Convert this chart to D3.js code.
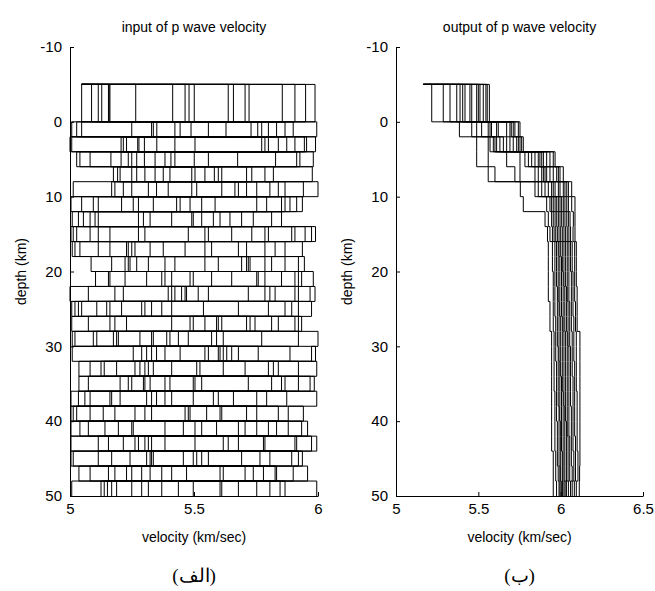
<!DOCTYPE html>
<html>
<head>
<meta charset="utf-8">
<script src="https://cdn.jsdelivr.net/npm/d3@7"></script>
<style>
  html, body { margin: 0; padding: 0; background: #fff; }
  svg { display: block; }
  text { font-family: "Liberation Sans", Arial, sans-serif; fill: #000; }
</style>
</head>
<body>
<svg id="chart" width="655" height="591"></svg>
<script>
// ---------------- DATA ----------------
// layer boundaries (km): top layer -5..0, then 2 km layers down to 50 km
const layerDepths = [-5, 0, 2, 4, 6, 8, 10, 12, 14, 16, 18, 20, 22, 24, 26, 28, 30, 32, 34, 36, 38, 40, 42, 44, 46, 48, 50];

const yTicks = [-10, 0, 10, 20, 30, 40, 50];
const xTicksInput = [5, 5.5, 6];
const xTicksOutput = [5, 5.5, 6, 6.5];
const xTickLabelsInput = ["5", "5.5", "6"];
const xTickLabelsOutput = ["5", "5.5", "6", "6.5"];

const titles = ["input of p wave velocity", "output of p wave velocity"];
const xLabel = "velocity (km/sec)";
const yLabel = "depth (km)";
const captions = ["(الف)", "(ب)"];

// starting velocity of each stair line on the top boundary
const inputStartVelocity = 5.047;
const outputStartVelocity = 5.166;

// input models: one row per layer, one column per model (20 models)
const inputVelocities = [
  [5.464, 5.114, 5.722, 5.161, 5.95, 5.047, 5.638, 5.155, 5.907, 5.414, 5.087, 5.706, 5.48, 5.988, 5.128, 5.501, 5.265, 5.856, 5.158, 5.659],
  [5.329, 5.757, 5.007, 5.867, 5.444, 5.629, 5.995, 5.047, 5.8, 5.35, 5.558, 5.027, 5.9, 5.336, 5.73, 5.833, 5.249, 5.488, 5.773, 5.423],
  [5.84, 5.3, 5.99, 5.007, 5.504, 5.273, 5.907, 5.773, 5.215, 5.8, 5.0, 5.954, 5.35, 5.206, 5.874, 5.278, 5.786, 5.945, 5.423, 5.228],
  [5.04, 5.829, 5.407, 5.235, 5.981, 5.3, 5.165, 5.501, 5.249, 5.914, 5.423, 5.027, 5.343, 5.676, 5.081, 5.927, 5.269, 5.206, 5.558, 5.383],
  [5.491, 5.202, 5.712, 5.343, 5.82, 5.175, 5.582, 5.269, 5.786, 5.403, 5.192, 5.612, 5.504, 5.977, 5.249, 5.544, 5.376, 5.733, 5.302, 5.598],
  [5.249, 5.712, 5.013, 5.867, 5.491, 5.665, 6.0, 5.181, 5.806, 5.349, 5.612, 5.168, 5.941, 5.316, 5.679, 5.84, 5.215, 5.511, 5.753, 5.396],
  [5.793, 5.336, 5.937, 5.047, 5.484, 5.255, 5.867, 5.531, 5.114, 5.753, 5.004, 5.914, 5.43, 5.094, 5.853, 5.276, 5.585, 5.887, 5.444, 5.208],
  [5.034, 5.692, 5.497, 5.114, 5.853, 5.323, 5.081, 5.578, 5.276, 5.739, 5.531, 5.009, 5.41, 5.645, 5.054, 5.813, 5.296, 5.101, 5.605, 5.491],
  [5.544, 5.027, 5.894, 5.276, 5.974, 5.004, 5.733, 5.114, 5.948, 5.477, 5.013, 5.8, 5.558, 5.99, 5.081, 5.652, 5.302, 5.907, 5.161, 5.786],
  [5.161, 5.571, 5.009, 5.827, 5.262, 5.464, 5.937, 5.04, 5.712, 5.235, 5.376, 5.02, 5.867, 5.228, 5.544, 5.786, 5.114, 5.323, 5.679, 5.249],
  [5.726, 5.383, 5.945, 5.168, 5.598, 5.269, 5.813, 5.692, 5.235, 5.719, 5.085, 5.921, 5.423, 5.222, 5.786, 5.316, 5.712, 5.867, 5.544, 5.242],
  [5.155, 5.907, 5.652, 5.37, 5.981, 5.484, 5.222, 5.759, 5.383, 5.921, 5.753, 5.103, 5.497, 5.853, 5.161, 5.934, 5.41, 5.309, 5.786, 5.571],
  [5.47, 5.181, 5.827, 5.423, 5.968, 5.0, 5.719, 5.396, 5.921, 5.464, 5.074, 5.806, 5.517, 5.988, 5.215, 5.558, 5.45, 5.907, 5.41, 5.786],
  [5.108, 5.538, 5.007, 5.894, 5.289, 5.37, 5.974, 5.034, 5.8, 5.161, 5.329, 5.02, 5.921, 5.148, 5.41, 5.867, 5.047, 5.302, 5.679, 5.208],
  [5.746, 5.497, 5.934, 5.074, 5.598, 5.41, 5.84, 5.612, 5.181, 5.726, 5.007, 5.921, 5.544, 5.161, 5.813, 5.484, 5.712, 5.907, 5.591, 5.228],
  [5.02, 5.618, 5.403, 5.188, 6.0, 5.329, 5.108, 5.477, 5.195, 5.773, 5.437, 5.009, 5.336, 5.591, 5.094, 5.921, 5.282, 5.175, 5.571, 5.39],
  [5.558, 5.289, 5.679, 5.383, 5.974, 5.009, 5.618, 5.329, 5.887, 5.544, 5.255, 5.652, 5.598, 5.99, 5.309, 5.605, 5.444, 5.759, 5.349, 5.632],
  [5.188, 5.618, 5.036, 5.84, 5.316, 5.511, 5.995, 5.125, 5.8, 5.282, 5.41, 5.081, 5.921, 5.262, 5.524, 5.82, 5.138, 5.336, 5.706, 5.302],
  [5.813, 5.323, 5.985, 5.074, 5.497, 5.296, 5.867, 5.504, 5.235, 5.719, 5.036, 5.968, 5.383, 5.202, 5.853, 5.302, 5.531, 5.921, 5.403, 5.249],
  [5.034, 5.753, 5.41, 5.168, 5.995, 5.329, 5.081, 5.578, 5.202, 5.793, 5.497, 5.004, 5.349, 5.659, 5.06, 5.874, 5.309, 5.161, 5.598, 5.383],
  [5.464, 5.027, 5.712, 5.262, 5.88, 5.004, 5.551, 5.134, 5.84, 5.329, 5.013, 5.612, 5.477, 5.941, 5.081, 5.484, 5.302, 5.753, 5.181, 5.605],
  [5.195, 5.706, 5.004, 5.88, 5.457, 5.591, 5.958, 5.074, 5.8, 5.255, 5.531, 5.04, 5.934, 5.249, 5.679, 5.833, 5.141, 5.504, 5.753, 5.383],
  [5.78, 5.316, 5.995, 5.114, 5.504, 5.276, 5.907, 5.618, 5.215, 5.679, 5.004, 5.974, 5.329, 5.155, 5.786, 5.302, 5.638, 5.914, 5.383, 5.262],
  [5.013, 5.806, 5.511, 5.309, 5.937, 5.336, 5.168, 5.558, 5.323, 5.894, 5.531, 5.004, 5.457, 5.766, 5.114, 5.921, 5.329, 5.242, 5.692, 5.497],
  [5.41, 5.155, 5.78, 5.289, 5.9, 5.036, 5.618, 5.228, 5.833, 5.37, 5.081, 5.739, 5.47, 5.958, 5.181, 5.605, 5.323, 5.827, 5.249, 5.706],
  [5.168, 5.612, 5.007, 5.847, 5.316, 5.497, 5.995, 5.138, 5.753, 5.249, 5.437, 5.125, 5.867, 5.188, 5.605, 5.806, 5.151, 5.37, 5.679, 5.289]
];

// output (inverted) models: one row per layer, one column per model (16 models)
const outputVelocities = [
  [5.217, 5.287, 5.328, 5.369, 5.389, 5.405, 5.419, 5.449, 5.46, 5.49, 5.50, 5.51, 5.53, 5.546, 5.554, 5.567],
  [5.385, 5.46, 5.49, 5.52, 5.56, 5.571, 5.58, 5.611, 5.621, 5.672, 5.692, 5.70, 5.712, 5.722, 5.743, 5.753],
  [5.49, 5.56, 5.571, 5.591, 5.601, 5.611, 5.631, 5.652, 5.672, 5.692, 5.712, 5.733, 5.743, 5.753, 5.763, 5.773],
  [5.49, 5.56, 5.672, 5.753, 5.783, 5.804, 5.824, 5.844, 5.864, 5.874, 5.885, 5.895, 5.915, 5.935, 5.955, 5.966],
  [5.56, 5.601, 5.722, 5.753, 5.844, 5.864, 5.885, 5.895, 5.905, 5.915, 5.935, 5.955, 5.976, 5.986, 5.996, 6.016],
  [5.755, 5.844, 5.864, 5.885, 5.905, 5.925, 5.945, 5.955, 5.966, 5.986, 5.996, 6.016, 6.026, 6.037, 6.047, 6.067],
  [5.773, 5.915, 5.935, 5.945, 5.955, 5.966, 5.976, 5.986, 5.996, 6.006, 6.016, 6.026, 6.037, 6.047, 6.067, 6.087],
  [5.905, 5.925, 5.945, 5.955, 5.966, 5.976, 5.986, 5.996, 6.006, 6.016, 6.026, 6.037, 6.047, 6.057, 6.077, 6.087],
  [5.92, 5.935, 5.95, 5.96, 5.97, 5.98, 5.99, 6.0, 6.01, 6.02, 6.03, 6.04, 6.05, 6.06, 6.075, 6.087],
  [5.925, 5.95, 5.965, 5.975, 5.985, 5.99, 6.0, 6.01, 6.02, 6.03, 6.04, 6.05, 6.06, 6.07, 6.085, 6.095],
  [5.925, 5.95, 5.965, 5.975, 5.985, 5.995, 6.005, 6.01, 6.02, 6.03, 6.04, 6.05, 6.06, 6.07, 6.085, 6.095],
  [5.925, 5.955, 5.965, 5.975, 5.985, 5.995, 6.005, 6.015, 6.02, 6.03, 6.04, 6.05, 6.065, 6.075, 6.085, 6.095],
  [5.925, 5.955, 5.965, 5.98, 5.985, 5.995, 6.005, 6.015, 6.025, 6.035, 6.04, 6.05, 6.065, 6.075, 6.085, 6.1],
  [5.935, 5.955, 5.965, 5.98, 5.99, 5.995, 6.005, 6.015, 6.025, 6.035, 6.045, 6.055, 6.065, 6.075, 6.09, 6.1],
  [5.935, 5.955, 5.97, 5.98, 5.99, 6.0, 6.01, 6.015, 6.025, 6.035, 6.045, 6.055, 6.065, 6.08, 6.09, 6.1],
  [5.945, 5.96, 5.97, 5.98, 5.99, 6.0, 6.01, 6.02, 6.03, 6.04, 6.045, 6.055, 6.07, 6.08, 6.095, 6.117],
  [5.945, 5.96, 5.97, 5.985, 5.99, 6.0, 6.01, 6.02, 6.03, 6.04, 6.05, 6.06, 6.07, 6.08, 6.095, 6.117],
  [5.945, 5.96, 5.975, 5.985, 5.995, 6.0, 6.01, 6.02, 6.03, 6.04, 6.05, 6.06, 6.07, 6.085, 6.095, 6.117],
  [5.945, 5.96, 5.975, 5.985, 5.995, 6.005, 6.01, 6.02, 6.03, 6.04, 6.05, 6.06, 6.075, 6.085, 6.095, 6.117],
  [5.945, 5.965, 5.975, 5.985, 5.995, 6.005, 6.015, 6.02, 6.03, 6.04, 6.05, 6.06, 6.075, 6.085, 6.1, 6.117],
  [5.945, 5.965, 5.975, 5.99, 5.995, 6.005, 6.015, 6.025, 6.03, 6.04, 6.05, 6.065, 6.075, 6.085, 6.1, 6.117],
  [5.945, 5.965, 5.98, 5.99, 6.0, 6.005, 6.015, 6.025, 6.035, 6.04, 6.05, 6.065, 6.075, 6.085, 6.1, 6.117],
  [5.945, 5.965, 5.98, 5.99, 6.0, 6.005, 6.015, 6.025, 6.035, 6.045, 6.055, 6.065, 6.075, 6.09, 6.1, 6.117],
  [5.955, 5.97, 5.98, 5.99, 6.0, 6.01, 6.015, 6.025, 6.035, 6.045, 6.055, 6.065, 6.08, 6.09, 6.105, 6.117],
  [5.955, 5.97, 5.985, 5.995, 6.0, 6.01, 6.015, 6.025, 6.035, 6.045, 6.055, 6.07, 6.08, 6.09, 6.105, 6.115],
  [5.955, 5.975, 5.99, 5.996, 6.003, 6.008, 6.012, 6.02, 6.027, 6.035, 6.047, 6.06, 6.07, 6.083, 6.095, 6.113]
];

// ---------------- DRAWING ----------------
const svg = d3.select("#chart");

const y = d3.scaleLinear().domain([-10, 50]).range([47, 496]);

const panels = [
  {
    x: d3.scaleLinear().domain([5, 6]).range([70, 318]),
    ticks: xTicksInput, tickLabels: xTickLabelsInput,
    rows: inputVelocities, start: inputStartVelocity,
    title: titles[0], caption: captions[0]
  },
  {
    x: d3.scaleLinear().domain([5, 6.5]).range([396, 643]),
    ticks: xTicksOutput, tickLabels: xTickLabelsOutput,
    rows: outputVelocities, start: outputStartVelocity,
    title: titles[1], caption: captions[1]
  }
];

const line = d3.line().x(d => d[0]).y(d => d[1]);

panels.forEach(p => {
  const x = p.x;
  const [x0, x1] = x.range();
  const cx = (x0 + x1) / 2;
  const g = svg.append("g");

  // build models (columns)
  const nModels = p.rows[0].length;
  const models = d3.range(nModels).map(j => p.rows.map(r => r[j]));

  const lines = g.append("g")
    .attr("fill", "none")
    .attr("stroke", "#000")
    .attr("stroke-width", 1);

  models.forEach(m => {
    const pts = [[x(p.start), y(layerDepths[0])]];
    m.forEach((v, i) => {
      pts.push([x(v), y(layerDepths[i])]);
      pts.push([x(v), y(layerDepths[i + 1])]);
    });
    lines.append("path").attr("d", line(pts));
  });

  // axes
  const xAxis = d3.axisBottom(x)
    .tickValues(p.ticks)
    .tickFormat((d, i) => p.tickLabels[i])
    .tickSizeInner(-4).tickSizeOuter(0).tickPadding(7);
  const yAxis = d3.axisLeft(y)
    .tickValues(yTicks)
    .tickFormat(d => String(d))
    .tickSizeInner(-4).tickSizeOuter(0).tickPadding(8);

  const gx = g.append("g").attr("transform", `translate(0,${y(50)})`).call(xAxis);
  const gy = g.append("g").attr("transform", `translate(${x0},0)`).call(yAxis);
  [gx, gy].forEach(a => {
    a.selectAll("text").style("font-family", "'Liberation Sans', Arial, sans-serif")
      .style("font-size", "15px").attr("fill", "#000");
    a.selectAll("line, path").attr("stroke", "#000");
  });

  // title
  g.append("text").attr("x", cx).attr("y", 32)
    .attr("text-anchor", "middle").style("font-size", "14px")
    .text(p.title);

  // x label
  g.append("text").attr("x", cx).attr("y", 542)
    .attr("text-anchor", "middle").style("font-size", "14px")
    .text(xLabel);

  // y label
  g.append("text")
    .attr("transform", `translate(${x0 - 44},${y(20)}) rotate(-90)`)
    .attr("text-anchor", "middle").style("font-size", "14px")
    .text(yLabel);

  // caption
  g.append("text").attr("x", cx).attr("y", 582)
    .attr("text-anchor", "middle")
    .style("font-family", "'Liberation Serif', 'DejaVu Serif', 'Noto Sans', serif")
    .style("font-size", "19px")
    .text(p.caption);
});
</script>
</body>
</html>
